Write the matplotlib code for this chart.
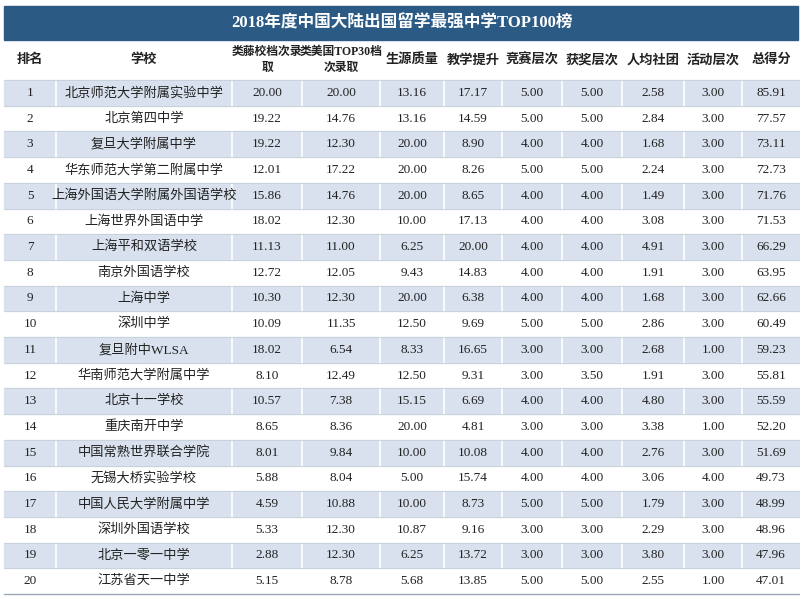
import matplotlib
matplotlib.use("Agg")
import matplotlib.pyplot as plt
from matplotlib.patches import Rectangle

plt.rcParams['font.family'] = ['Liberation Serif', 'Noto Sans CJK SC']

title = "2018年度中国大陆出国留学最强中学TOP100榜"
headers = ["排名", "学校", "类藤校档次录\n取", "类美国TOP30档\n次录取", "生源质量", "教学提升",
           "竞赛层次", "获奖层次", "人均社团", "活动层次", "总得分"]
schools = ["北京师范大学附属实验中学", "北京第四中学", "复旦大学附属中学", "华东师范大学第二附属中学",
           "上海外国语大学附属外国语学校", "上海世界外国语中学", "上海平和双语学校", "南京外国语学校",
           "上海中学", "深圳中学", "复旦附中WLSA", "华南师范大学附属中学", "北京十一学校", "重庆南开中学",
           "中国常熟世界联合学院", "无锡大桥实验学校", "中国人民大学附属中学", "深圳外国语学校",
           "北京一零一中学", "江苏省天一中学"]
ivy = [20.00, 19.22, 19.22, 12.01, 15.86, 18.02, 11.13, 12.72, 10.30, 10.09,
       18.02, 8.10, 10.57, 8.65, 8.01, 5.88, 4.59, 5.33, 2.88, 5.15]
top30 = [20.00, 14.76, 12.30, 17.22, 14.76, 12.30, 11.00, 12.05, 12.30, 11.35,
         6.54, 12.49, 7.38, 8.36, 9.84, 8.04, 10.88, 12.30, 12.30, 8.78]
source = [13.16, 13.16, 20.00, 20.00, 20.00, 10.00, 6.25, 9.43, 20.00, 12.50,
          8.33, 12.50, 15.15, 20.00, 10.00, 5.00, 10.00, 10.87, 6.25, 5.68]
teach = [17.17, 14.59, 8.90, 8.26, 8.65, 17.13, 20.00, 14.83, 6.38, 9.69,
         16.65, 9.31, 6.69, 4.81, 10.08, 15.74, 8.73, 9.16, 13.72, 13.85]
contest = [5.00, 5.00, 4.00, 5.00, 4.00, 4.00, 4.00, 4.00, 4.00, 5.00,
           3.00, 3.00, 4.00, 3.00, 4.00, 4.00, 5.00, 3.00, 3.00, 5.00]
award = [5.00, 5.00, 4.00, 5.00, 4.00, 4.00, 4.00, 4.00, 4.00, 5.00,
         3.00, 3.50, 4.00, 3.00, 4.00, 4.00, 5.00, 3.00, 3.00, 5.00]
clubs = [2.58, 2.84, 1.68, 2.24, 1.49, 3.08, 4.91, 1.91, 1.68, 2.86,
         2.68, 1.91, 4.80, 3.38, 2.76, 3.06, 1.79, 2.29, 3.80, 2.55]
activity = [3.00, 3.00, 3.00, 3.00, 3.00, 3.00, 3.00, 3.00, 3.00, 3.00,
            1.00, 3.00, 3.00, 1.00, 3.00, 4.00, 3.00, 3.00, 3.00, 1.00]
total = [85.91, 77.57, 73.11, 72.73, 71.76, 71.53, 66.29, 63.95, 62.66, 60.49,
         59.23, 55.81, 55.59, 52.20, 51.69, 49.73, 48.99, 48.96, 47.96, 47.01]

W, H = 800, 596
fig = plt.figure(figsize=(8, 5.96), dpi=100)
ax = fig.add_axes([0, 0, 1, 1])
ax.set_xlim(0, W)
ax.set_ylim(H, 0)
ax.axis('off')

col_edges = [4, 56, 232, 302, 380, 444, 502, 562, 622, 684, 742, 800]
title_top, title_h = 6, 34
head_top, head_h = 40, 40
row_top = 80
row_h = (H - 2 - row_top) / len(schools)

ax.add_patch(Rectangle((col_edges[0], title_top), W - col_edges[0] - 2, title_h, color='#2b5b84'))
ax.text(W / 2 + 2, title_top + title_h / 2, title, color='white', fontsize=12,
        fontweight='bold', ha='center', va='center')

for i, h in enumerate(headers):
    cx = (col_edges[i] + col_edges[i + 1]) / 2
    fs = 8.5 if i in (2, 3) else 9.5
    ax.text(cx, head_top + head_h / 2, h, fontsize=fs, ha='center', va='center',
            color='#222222', linespacing=1.5, fontweight='bold')

for r in range(len(schools)):
    y0 = row_top + r * row_h
    if r % 2 == 0:
        ax.add_patch(Rectangle((col_edges[0], y0), W - col_edges[0], row_h, color='#d8e1ed'))
        for e in col_edges[1:-1]:
            ax.plot([e, e], [y0, y0 + row_h], color='white', lw=1.2)
    ax.plot([col_edges[0], W], [y0, y0], color='#c7cfda', lw=0.6)
    vals = [str(r + 1), schools[r]] + ["%.2f" % v for v in
            (ivy[r], top30[r], source[r], teach[r], contest[r], award[r],
             clubs[r], activity[r], total[r])]
    for i, v in enumerate(vals):
        cx = (col_edges[i] + col_edges[i + 1]) / 2
        ax.text(cx, y0 + row_h / 2, v, fontsize=9.5, ha='center', va='center', color='#222222')
ax.plot([col_edges[0], W], [H - 2, H - 2], color='#9aa8b8', lw=1)

fig.savefig("out.png", dpi=100)
